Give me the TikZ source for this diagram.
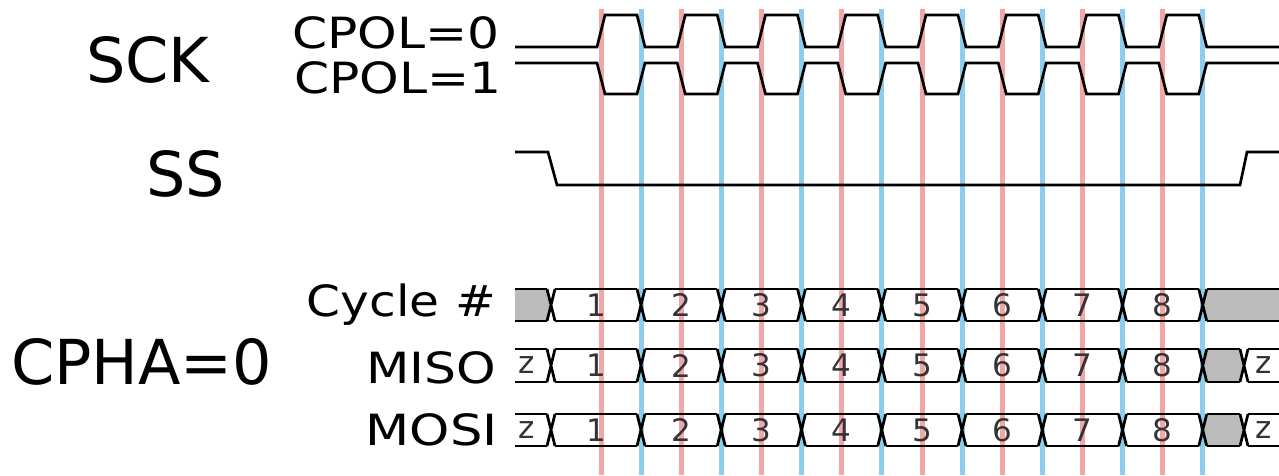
\documentclass[tikz,border=0pt]{standalone}
\usepackage{fontspec}
\setmainfont{DejaVu Sans}
\definecolor{clkred}{RGB}{242,166,166}
\definecolor{clkblue}{RGB}{140,206,236}
\definecolor{busgray}{RGB}{187,187,187}
\begin{document}
\begin{tikzpicture}[x=1pt,y=-1pt,
  wave/.style={line width=2.7pt,black,line join=miter},
  redclk/.style={line width=5pt,clkred},
  blueclk/.style={line width=5pt,clkblue},
  biglabel/.style={inner sep=0pt,font=\fontsize{62}{62}\selectfont},
  smalllabel/.style={inner sep=0pt,font=\fontsize{43}{43}\selectfont},
  digit/.style={inner sep=0pt,text=black!80,font=\fontsize{31}{31}\selectfont},
  grayfill/.style={fill=busgray}]
\useasboundingbox (0,0) rectangle (1279,475);
% clock reference lines
\foreach \k in {0,...,7}{
  \draw[redclk] ({601+80.25*\k},9) -- ({601+80.25*\k},475);
  \draw[blueclk] ({641+80.25*\k},9) -- ({641+80.25*\k},475);
}
% labels
\node[biglabel,anchor=base west] (sck) at (86,82) {SCK};
\node[smalllabel,anchor=base east] (cpol0) at (500,48) {\scalebox{1.17}[1]{CPOL=0}};
\node[smalllabel,anchor=base east] (cpol1) at (502,93) {\scalebox{1.17}[1]{CPOL=1}};
\node[biglabel,anchor=base west] (ss) at (146,196) {SS};
\node[biglabel,anchor=base west] (cpha) at (11,384) {CPHA=0};
\node[inner sep=0pt,font=\fontsize{43}{43}\selectfont,anchor=base east] (cyc) at (496,316) {\scalebox{1.13}[1]{Cycle \#}};
\node[inner sep=0pt,font=\fontsize{43}{43}\selectfont,anchor=base east] (miso) at (496,383) {\scalebox{1.17}[1]{MISO}};
\node[inner sep=0pt,font=\fontsize{43}{43}\selectfont,anchor=base east] (mosi) at (498,445) {\scalebox{1.19}[1]{MOSI}};
% SCK CPOL=0
\draw[wave] (515,47)
  \foreach \k in {0,...,7}{
    -- ({597+80.25*\k},47) -- ({605+80.25*\k},15)
    -- ({637+80.25*\k},15) -- ({645+80.25*\k},47)}
  -- (1279,47);
% SCK CPOL=1
\draw[wave] (515,63)
  \foreach \k in {0,...,7}{
    -- ({597+80.25*\k},63) -- ({605+80.25*\k},94)
    -- ({637+80.25*\k},94) -- ({645+80.25*\k},63)}
  -- (1279,63);
% SS
\draw[wave] (515,152) -- (548,152) -- (557,185) -- (1240,185) -- (1247,152) -- (1279,152);
% ---- Cycle # row (T=289, B=321, M=305)
\fill[grayfill] (515,289) -- (547,289) -- (551,305) -- (547,321) -- (515,321) -- cycle;
\fill[grayfill] (1279,289) -- (1206.75,289) -- (1202.75,305) -- (1206.75,321) -- (1279,321) -- cycle;
\draw[wave] (515,289) -- (547,289) (515,321) -- (547,321);
\draw[wave] (1206.75,289) -- (1279,289) (1206.75,321) -- (1279,321);
% ---- MISO row and MOSI row
\foreach \T/\B in {349/382,414/446}{
  \pgfmathsetmacro\M{(\T+\B)/2}
  \fill[grayfill] (1206.75,\T) -- (1240,\T) -- (1244,\M) -- (1240,\B) -- (1206.75,\B) -- (1202.75,\M) -- cycle;
  \draw[wave] (515,\T) -- (547,\T) (515,\B) -- (547,\B);
  \draw[wave] (1206.75,\T) -- (1240,\T) (1206.75,\B) -- (1240,\B);
  \draw[wave] (1240,\T) -- (1248,\B) (1240,\B) -- (1248,\T);
  \draw[wave] (1248,\T) -- (1279,\T) (1248,\B) -- (1279,\B);
  \node[digit,anchor=center] at (527,\M) {z};
  \node[digit,anchor=center] at (1264,\M) {z};
}
% common bus boxes 1..8
\foreach \T/\B in {289/321,349/382,414/446}{
  \pgfmathsetmacro\M{(\T+\B)/2}
  \draw[wave] (547,\T) -- (555,\B) (547,\B) -- (555,\T);
  \foreach \k in {1,...,8}{
    \pgfmathsetmacro\ta{\k==1 ? 551 : 641+80.25*(\k-2)}
    \pgfmathsetmacro\tb{641+80.25*(\k-1)}
    \draw[wave] (\ta+4,\T) -- (\tb-4,\T) (\ta+4,\B) -- (\tb-4,\B);
    \draw[wave] (\tb-4,\T) -- (\tb+4,\B) (\tb-4,\B) -- (\tb+4,\T);
    \node[digit] at ({(\ta+\tb)/2},\M) {\k};
  }
}
\end{tikzpicture}
\end{document}
